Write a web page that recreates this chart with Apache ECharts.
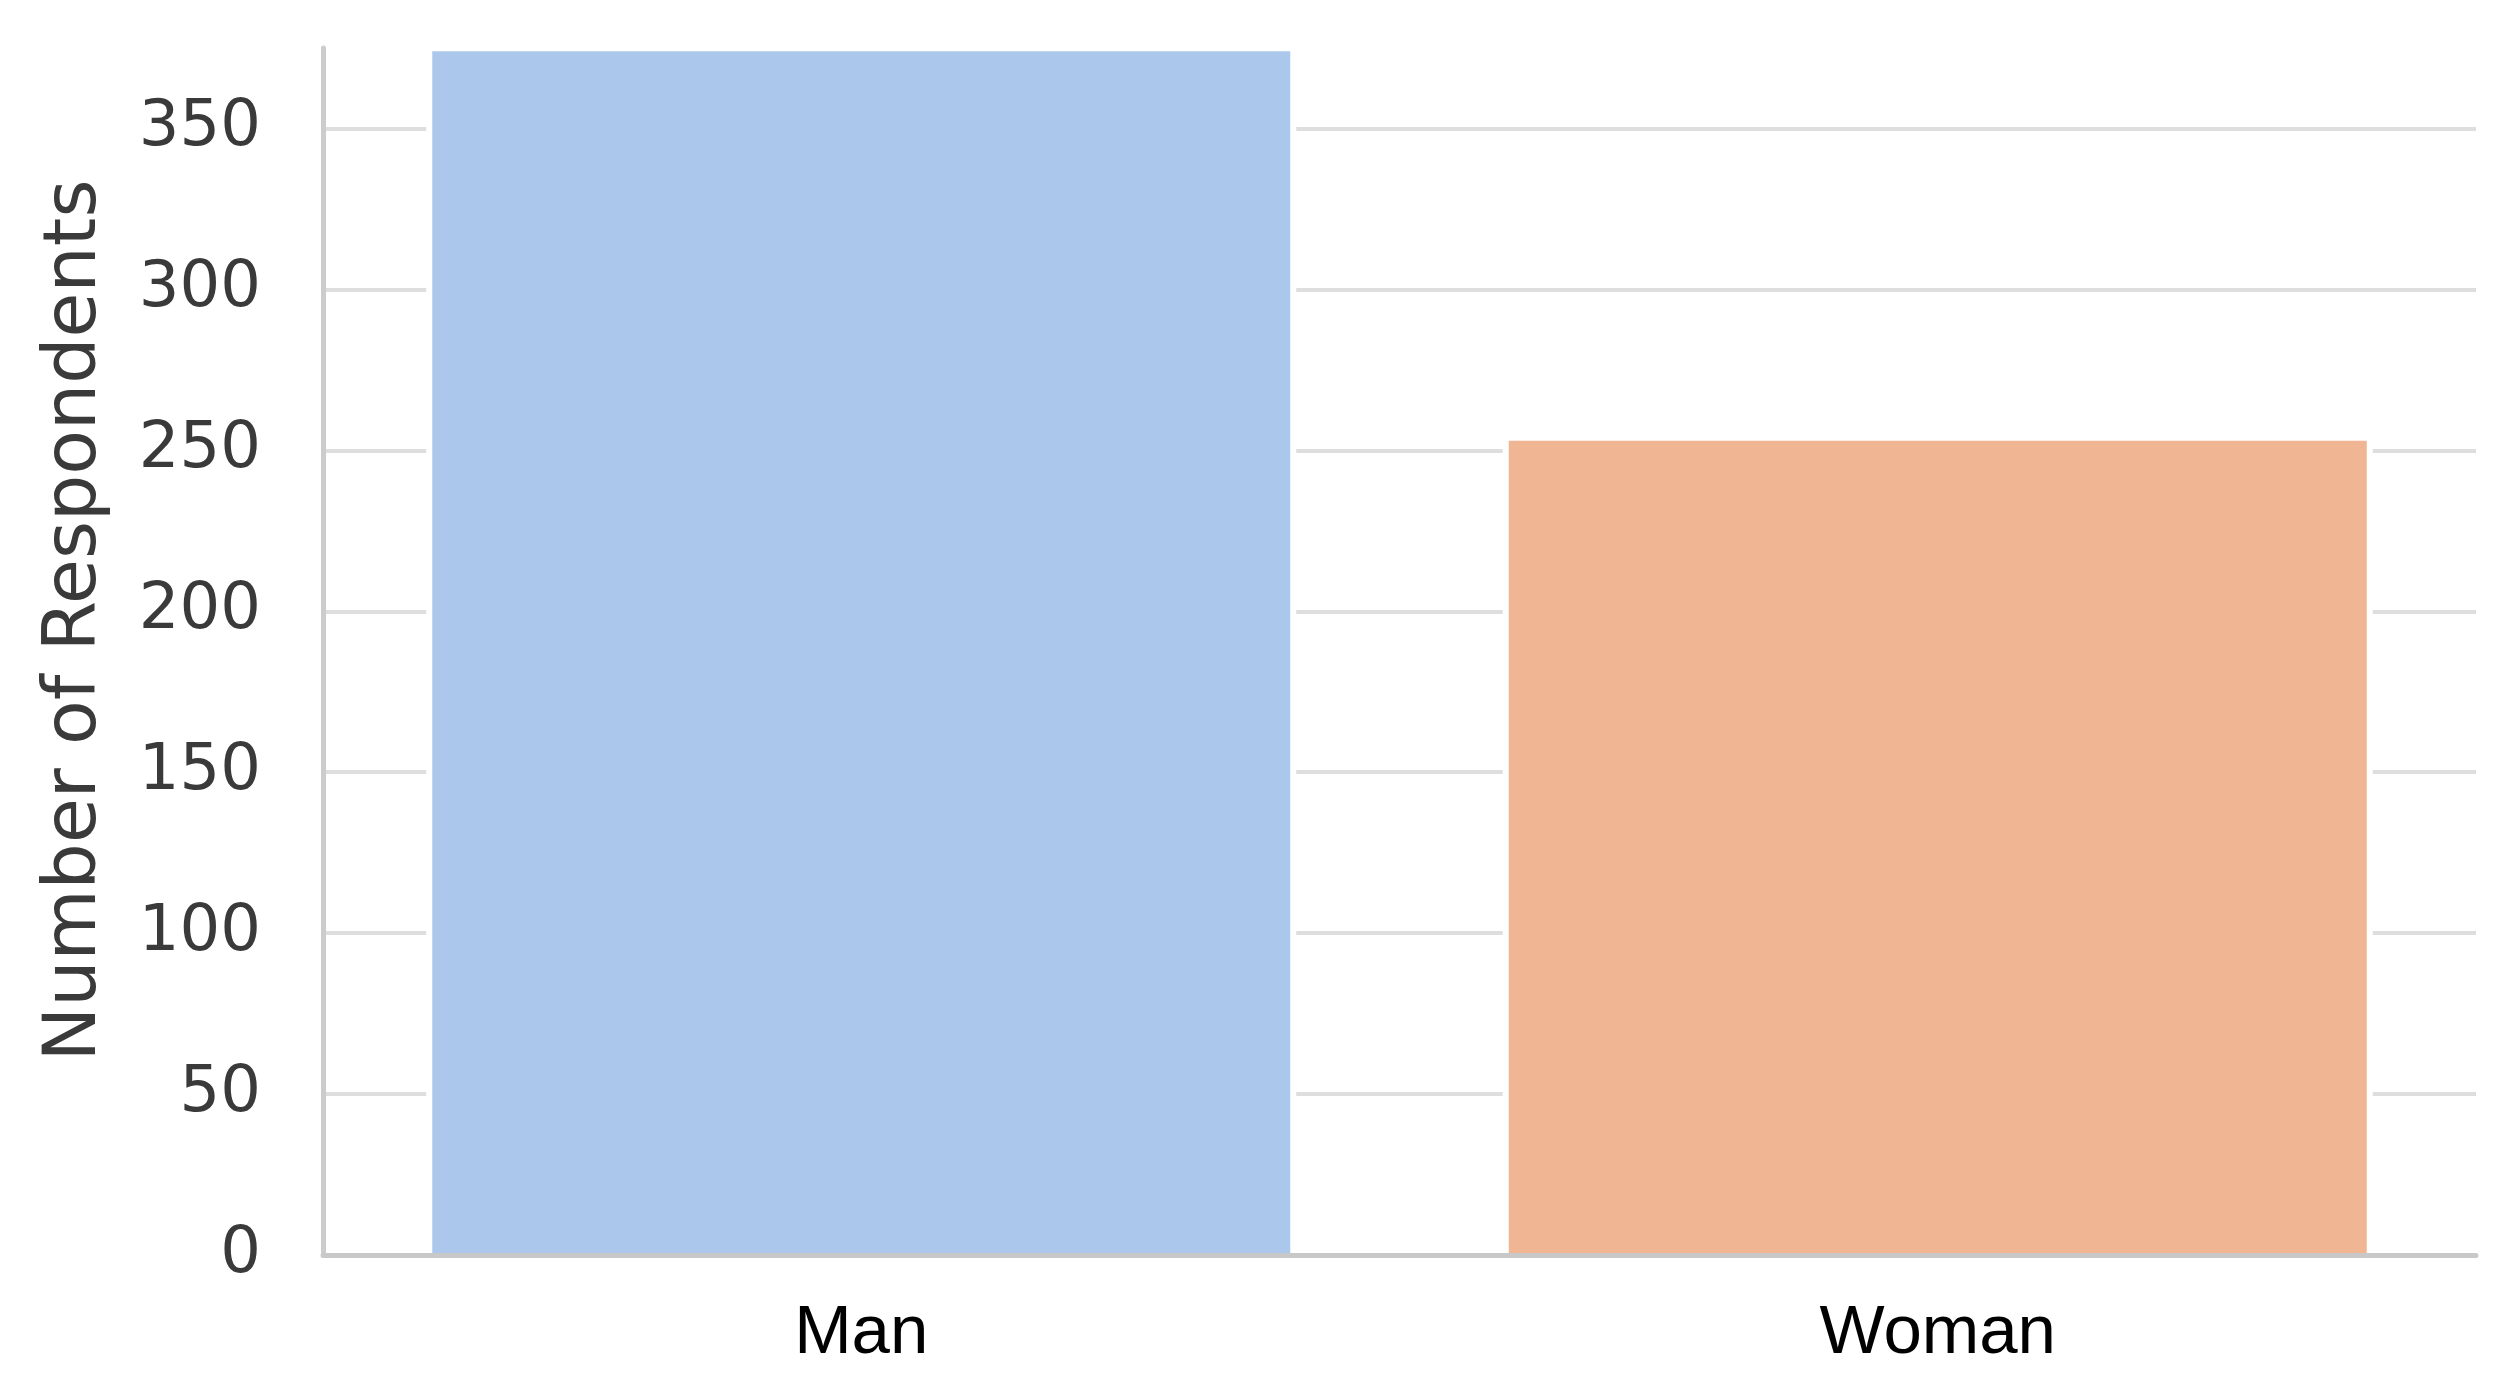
<!DOCTYPE html>
<html>
<head>
<meta charset="utf-8">
<script src="https://cdn.jsdelivr.net/npm/echarts@6/dist/echarts.min.js"></script>
<style>
html,body{margin:0;padding:0;background:#fff;}
#chart{width:2510px;height:1392px;}
</style>
</head>
<body>
<div id="chart"></div>
<script>
const categories = ["Man", "Woman"];
const respondents = [374, 253];
const barColors = ["#abc8ec", "#f0b693"];
const yTickStep = 50;
const yMax = 375;
const yAxisTitle = "Number of Respondents";

const chart = echarts.init(document.getElementById('chart'), null, {renderer: 'canvas'});
chart.setOption({
  backgroundColor: '#ffffff',
  animation: false,
  grid: {left: 323, right: 34, top: 48, bottom: 137, containLabel: false},
  xAxis: [{
    type: 'category',
    data: categories,
    z: 5,
    axisLine: {show: true, lineStyle: {color: '#c8c8c8', width: 5}},
    axisTick: {show: false},
    splitLine: {show: false},
    axisLabel: {
      color: '#000000',
      fontFamily: '"Liberation Sans", Arial, sans-serif',
      fontSize: 69,
      margin: 44
    }
  }, {
    type: 'category',
    data: categories,
    show: false
  }],
  yAxis: {
    type: 'value',
    min: 0,
    max: yMax,
    interval: yTickStep,
    name: yAxisTitle,
    nameLocation: 'middle',
    nameGap: 210,
    nameTextStyle: {
      color: '#3a3a3a',
      fontFamily: '"DejaVu Sans", sans-serif',
      fontSize: 73,
      padding: [0, 0, 0, 62]
    },
    axisLine: {show: true, lineStyle: {color: '#cccccc', width: 5}},
    axisTick: {show: false},
    axisLabel: {
      color: '#3a3a3a',
      fontFamily: '"DejaVu Sans", sans-serif',
      fontSize: 64,
      margin: 62,
      showMaxLabel: false
    },
    splitLine: {show: true, showMinLine: false, showMaxLine: false, lineStyle: {color: '#dedede', width: 4}}
  },
  series: [{
    type: 'bar',
    xAxisIndex: 1,
    barWidth: 870,
    silent: true,
    data: respondents.map(v => ({value: v, itemStyle: {color: '#ffffff'}}))
  }, {
    type: 'bar',
    xAxisIndex: 0,
    barWidth: 858,
    data: respondents.map((v, i) => ({
      value: v,
      itemStyle: {color: barColors[i]}
    }))
  }]
});
</script>
</body>
</html>
